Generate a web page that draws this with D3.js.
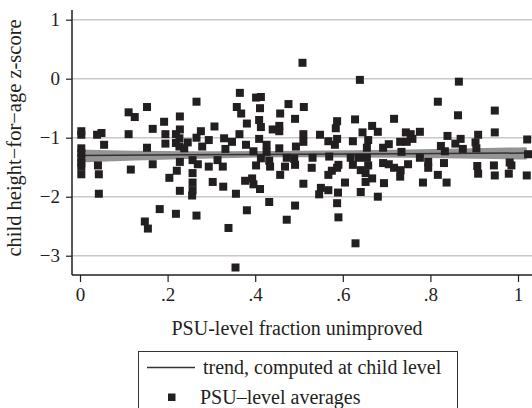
<!DOCTYPE html>
<html>
<head>
<meta charset="utf-8">
<script src="https://cdn.jsdelivr.net/npm/d3@7"></script>
<style>
    body { margin: 0; background: #fff; }
    #chart { width: 532px; height: 408px; }
    svg text { font-family: "Liberation Serif", "Times New Roman", serif; fill: #231f20; }
</style>
</head>
<body>
<div id="chart"></div>
<script>
// PSU-level averages (fraction unimproved, mean height-for-age z-score)
const psuX = [
    0.003, 0.003, 0.003, 0.003, 0.003, 0.003, 0.003, 0.003, 0.039, 0.049,
    0.055, 0.041, 0.043, 0.043, 0.111, 0.125, 0.153, 0.192, 0.166, 0.111,
    0.195, 0.153, 0.195, 0.116, 0.166, 0.204, 0.182, 0.148, 0.155, 0.266,
    0.365, 0.402, 0.358, 0.368, 0.411, 0.228, 0.307, 0.381, 0.409, 0.228,
    0.276, 0.364, 0.413, 0.219, 0.227, 0.219, 0.227, 0.246, 0.238, 0.266,
    0.294, 0.279, 0.329, 0.347, 0.332, 0.379, 0.409, 0.396, 0.228, 0.257,
    0.269, 0.294, 0.314, 0.326, 0.402, 0.413, 0.221, 0.257, 0.257, 0.257,
    0.256, 0.228, 0.303, 0.327, 0.356, 0.377, 0.393, 0.396, 0.411, 0.219,
    0.266, 0.381, 0.339, 0.355, 0.508, 0.413, 0.476, 0.511, 0.457, 0.491,
    0.440, 0.455, 0.455, 0.587, 0.584, 0.628, 0.510, 0.510, 0.548, 0.567,
    0.587, 0.582, 0.623, 0.426, 0.426, 0.455, 0.493, 0.472, 0.489, 0.531,
    0.569, 0.618, 0.432, 0.434, 0.468, 0.491, 0.529, 0.457, 0.590, 0.623,
    0.575, 0.567, 0.587, 0.605, 0.510, 0.550, 0.546, 0.567, 0.589, 0.432,
    0.491, 0.587, 0.590, 0.472, 0.629, 0.639, 0.667, 0.717, 0.645, 0.680,
    0.744, 0.755, 0.759, 0.776, 0.746, 0.731, 0.839, 0.658, 0.705, 0.692,
    0.655, 0.734, 0.824, 0.833, 0.637, 0.655, 0.776, 0.795, 0.795, 0.658,
    0.692, 0.705, 0.717, 0.732, 0.731, 0.749, 0.831, 0.641, 0.652, 0.652,
    0.667, 0.694, 0.783, 0.817, 0.837, 0.641, 0.680, 0.817, 0.865, 0.947,
    0.863, 0.947, 0.869, 0.857, 0.909, 0.903, 0.905, 0.874, 1.021, 1.023,
    0.907, 0.909, 0.945, 0.947, 0.981, 0.985, 0.979, 1.020
];
const psuY = [
    -0.89, -0.95, -1.18, -1.26, -1.34, -1.43, -1.49, -1.62, -0.95, -0.92,
    -1.12, -1.47, -1.62, -1.95, -0.57, -0.65, -0.48, -0.73, -0.85, -0.94,
    -0.94, -1.17, -1.10, -1.54, -1.45, -1.68, -2.21, -2.42, -2.54, -0.39,
    -0.24, -0.32, -0.48, -0.59, -0.50, -0.64, -0.81, -0.76, -0.70, -0.86,
    -0.89, -0.94, -0.82, -0.94, -1.01, -1.09, -1.15, -1.08, -1.18, -1.00,
    -1.04, -1.15, -1.01, -1.07, -1.19, -1.12, -1.02, -1.23, -1.41, -1.38,
    -1.45, -1.49, -1.38, -1.49, -1.47, -1.35, -1.56, -1.60, -1.76, -1.89,
    -1.98, -1.90, -1.75, -1.83, -1.95, -1.73, -1.69, -1.79, -1.87, -2.29,
    -2.32, -2.23, -2.53, -3.20, 0.27, -0.31, -0.43, -0.48, -0.59, -0.68,
    -0.86, -0.80, -0.89, -0.72, -0.84, -0.69, -0.94, -1.07, -0.95, -1.06,
    -1.02, -1.12, -1.06, -1.12, -1.24, -1.18, -1.15, -1.34, -1.36, -1.34,
    -1.32, -1.34, -1.39, -1.49, -1.49, -1.46, -1.51, -1.63, -1.46, -1.46,
    -1.56, -1.63, -1.51, -1.76, -1.78, -1.85, -1.96, -1.89, -1.93, -2.09,
    -2.15, -2.11, -2.35, -2.39, -2.79, -0.02, -0.80, -0.68, -0.91, -0.90,
    -0.91, -0.94, -1.02, -0.90, -1.07, -1.07, -0.97, -1.04, -1.11, -1.17,
    -1.17, -1.24, -1.14, -1.23, -1.34, -1.34, -1.34, -1.41, -1.51, -1.47,
    -1.43, -1.45, -1.51, -1.55, -1.66, -1.45, -1.43, -1.55, -1.60, -1.75,
    -1.69, -1.77, -1.76, -1.63, -1.76, -1.92, -2.00, -0.39, -0.05, -0.54,
    -0.62, -0.91, -1.02, -1.10, -0.95, -1.08, -1.18, -1.19, -1.03, -1.28,
    -1.48, -1.61, -1.47, -1.64, -1.42, -1.47, -1.61, -1.64
];

// child-level trend with confidence band
const trendX = [0, 0.25, 0.5, 0.75, 1.02];
const trendFit = [-1.30, -1.29, -1.28, -1.27, -1.26];
const ciUpper = [-1.20, -1.23, -1.22, -1.20, -1.16];
const ciLower = [-1.42, -1.36, -1.33, -1.34, -1.37];

const xTicks = [0, 0.2, 0.4, 0.6, 0.8, 1];
const xTickLabels = ["0", ".2", ".4", ".6", ".8", "1"];
const yTicks = [1, 0, -1, -2, -3];
const yTickLabels = ["1", "0", "\u22121", "\u22122", "\u22123"];

const serif = '"Liberation Serif", "Times New Roman", serif';
const width = 532;
const height = 408;
const plot = {left: 72, right: 532, top: 10, bottom: 275};

const svg = d3.select("#chart")
    .append("svg")
    .attr("width", width)
    .attr("height", height);

const xScale = d3.scaleLinear()
    .domain([0, 1])
    .range([80, 518]);

const yScale = d3.scaleLinear()
    .domain([-3, 1])
    .range([255.7, 19.7]);

// gridlines
svg.append("g")
    .selectAll("line")
    .data(yTicks)
    .enter()
    .append("line")
        .attr("x1", plot.left)
        .attr("x2", plot.right)
        .attr("y1", d => yScale(d))
        .attr("y2", d => yScale(d))
        .attr("stroke", "#c8c8c8")
        .attr("stroke-width", 1.4);

// confidence band + fitted line
const trend = trendX.map((x, i) => ({x: x, fit: trendFit[i], lo: ciLower[i], hi: ciUpper[i]}));

svg.append("path")
    .datum(trend)
    .attr("fill", "#949494")
    .attr("d", d3.area()
        .curve(d3.curveMonotoneX)
        .x(d => xScale(d.x))
        .y0(d => yScale(d.lo))
        .y1(d => yScale(d.hi)));

svg.append("path")
    .datum(trend)
    .attr("fill", "none")
    .attr("stroke", "#333")
    .attr("stroke-width", 1.5)
    .attr("d", d3.line()
        .x(d => xScale(d.x))
        .y(d => yScale(d.fit)));

// points
const size = 8;
svg.append("g")
    .selectAll("rect")
    .data(psuX.map((x, i) => ({x: x, y: psuY[i]})))
    .enter()
    .append("rect")
        .attr("x", d => xScale(d.x) - size / 2)
        .attr("y", d => yScale(d.y) - size / 2)
        .attr("width", size)
        .attr("height", size)
        .attr("fill", "#231f20");

// axes
const xAxis = svg.append("g")
    .attr("transform", `translate(0,${plot.bottom})`)
    .call(d3.axisBottom(xScale)
        .tickValues(xTicks)
        .tickFormat((d, i) => xTickLabels[i])
        .tickSize(7)
        .tickPadding(6));

const yAxis = svg.append("g")
    .attr("transform", `translate(${plot.left},0)`)
    .call(d3.axisLeft(yScale)
        .tickValues(yTicks)
        .tickFormat((d, i) => yTickLabels[i])
        .tickSize(6)
        .tickPadding(6));

[xAxis, yAxis].forEach(function(ax) {
    ax.attr("font-family", null).attr("font-size", null);
    ax.select(".domain").remove();
    ax.selectAll(".tick line").attr("stroke", "#231f20").attr("stroke-width", 1.2);
    ax.selectAll(".tick text")
        .style("font-family", serif)
        .style("font-size", "19px")
        .attr("fill", "#231f20");
});

svg.append("line")
    .attr("x1", plot.left).attr("x2", plot.left)
    .attr("y1", plot.top).attr("y2", plot.bottom)
    .attr("stroke", "#231f20").attr("stroke-width", 1.5);

svg.append("line")
    .attr("x1", plot.left).attr("x2", plot.right)
    .attr("y1", plot.bottom).attr("y2", plot.bottom)
    .attr("stroke", "#231f20").attr("stroke-width", 1.5);

// axis titles
svg.append("text")
    .attr("x", 297)
    .attr("y", 335)
    .attr("text-anchor", "middle")
    .style("font-size", "20px")
    .text("PSU-level fraction unimproved");

svg.append("text")
    .attr("transform", "rotate(-90)")
    .attr("x", -138)
    .attr("y", 21)
    .attr("text-anchor", "middle")
    .style("font-size", "20.5px")
    .text("child height\u2212for\u2212age z-score");

// legend
const legend = svg.append("g");

legend.append("rect")
    .attr("x", 138.5)
    .attr("y", 351.5)
    .attr("width", 319)
    .attr("height", 80)
    .attr("fill", "#fff")
    .attr("stroke", "#333")
    .attr("stroke-width", 1);

legend.append("line")
    .attr("x1", 147).attr("x2", 195)
    .attr("y1", 367.5).attr("y2", 367.5)
    .attr("stroke", "#333").attr("stroke-width", 1.5);

legend.append("text")
    .attr("x", 203)
    .attr("y", 373.5)
    .style("font-size", "20px")
    .text("trend, computed at child level");

legend.append("rect")
    .attr("x", 168)
    .attr("y", 393.5)
    .attr("width", 7.5)
    .attr("height", 7.5)
    .attr("fill", "#231f20");

legend.append("text")
    .attr("x", 200)
    .attr("y", 403.5)
    .style("font-size", "20px")
    .text("PSU\u2013level averages");
</script>
</body>
</html>
